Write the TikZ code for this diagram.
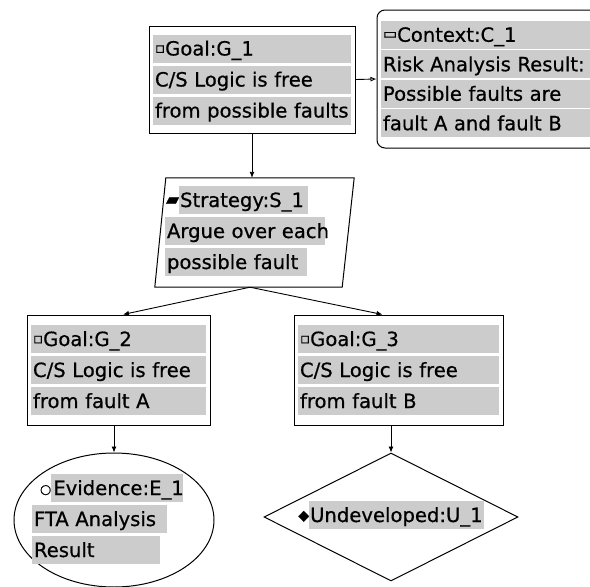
\documentclass[tikz,border=0pt]{standalone}
\usepackage{fontspec}
\setmainfont{DejaVu Sans}[FakeBold=0.6]
\usetikzlibrary{shapes.geometric,arrows.meta,calc}
\definecolor{hl}{gray}{0.80}
\setlength{\fboxsep}{0pt}
\newcommand\rowstrut{\rule[-7pt]{0pt}{28pt}}
\newcommand\hrow[2]{\colorbox{hl}{\makebox[#1][l]{\rowstrut\hspace{2pt}#2}}}
\newcommand\smallicon[3]{\raisebox{#2}{\fontsize{#1}{#1}\selectfont #3}}
\begin{document}
\begin{tikzpicture}[x=1pt,y=-1pt,
  every node/.style={font=\fontsize{19.6}{31}\selectfont, inner sep=0pt},
  box/.style={draw, line width=1pt, fill=white, inner xsep=4pt, inner ysep=0pt, align=left},
  shp/.style={draw, line width=1pt, inner sep=0pt},
  conn/.style={line width=0.9pt, -{Latex[length=6pt,width=5pt]}},
  ctx/.style={line width=0.9pt, -{Latex[open,length=6pt,width=5pt]}},
]
\useasboundingbox (0,0) rectangle (590,587);

% Goal G_1
\node[box, text width=198pt, minimum height=107pt] (g1) at (252,79.5)
  {\hrow{198pt}{\smallicon{15}{2.5pt}{▫}Goal:G\_1}\\
   \hrow{198pt}{C/S Logic is free}\\
   \hrow{198pt}{from possible faults}};

% Context C_1
\node[box, rounded corners=8pt, text width=217pt, minimum height=138pt,
      font=\fontsize{19.6}{29.5}\selectfont] (c1) at (489.5,79)
  {\hrow{217pt}{\smallicon{15}{3pt}{▭}Context:C\_1}\\
   \hrow{217pt}{Risk Analysis Result:}\\
   \hrow{217pt}{Possible faults are}\\
   \hrow{217pt}{fault A and fault B}};

% Strategy S_1
\node[inner sep=0pt, minimum width=199pt, minimum height=109pt] (s1) at (254.5,232.5) {};
\draw[line width=1pt] ($(s1.north west)+(11,0)$) -- (s1.north east)
  -- ($(s1.south east)+(-12,0)$) -- (s1.south west) -- cycle;
\node[text width=170pt, align=left] (s1t) at (250,231)
  {\hspace{1pt}\smallicon{17}{2pt}{▰}\colorbox{hl}{\rowstrut\hspace{1pt}Strategy:S\_1\hspace{4pt}}\\
   \hrow{160pt}{Argue over each}\\
   \hrow{142pt}{possible fault}};

% Goal G_2
\node[box, text width=175pt, minimum height=110pt] (g2) at (118.5,370)
  {\hrow{175pt}{\smallicon{15}{2.5pt}{▫}Goal:G\_2}\\
   \hrow{175pt}{C/S Logic is free}\\
   \hrow{175pt}{from fault A}};

% Goal G_3
\node[box, text width=201pt, minimum height=110pt] (g3) at (398.5,370)
  {\hrow{201pt}{\smallicon{15}{2.5pt}{▫}Goal:G\_3}\\
   \hrow{201pt}{C/S Logic is free}\\
   \hrow{201pt}{from fault B}};

% Evidence E_1
\node[shp, ellipse, minimum width=200pt, minimum height=134pt] (e1) at (114,520) {};
\node[text width=155pt, align=left] (e1t) at (109.5,519)
  {\hspace{8pt}\smallicon{13}{1.5pt}{○}\hrow{132pt}{Evidence:E\_1}\\
   \hrow{135pt}{FTA Analysis}\\
   \hrow{128pt}{Result}};

% Undeveloped U_1
\node[shp, diamond, minimum width=254pt, minimum height=128pt] (u1) at (391,517) {};
\node (u1t) at (391,515)
  {\smallicon{14}{2pt}{◆}\colorbox{hl}{\rowstrut\hspace{1pt}Undeveloped:U\_1\hspace{1pt}}};

% connectors
\draw[ctx] (g1.east) -- (c1.west);
\draw[conn] (g1.south) -- (g1.south |- s1.north);
\coordinate (s1b) at ($(s1.south)+(-4.5,0)$);
\draw[conn] (s1b) -- ([xshift=4.5pt]g2.north);
\draw[conn] (s1b) -- ([xshift=-16pt]g3.north);
\draw[conn] (e1.north |- g2.south) -- (e1.north);
\draw[conn] (u1.north |- g3.south) -- (u1.north);
\end{tikzpicture}
\end{document}
